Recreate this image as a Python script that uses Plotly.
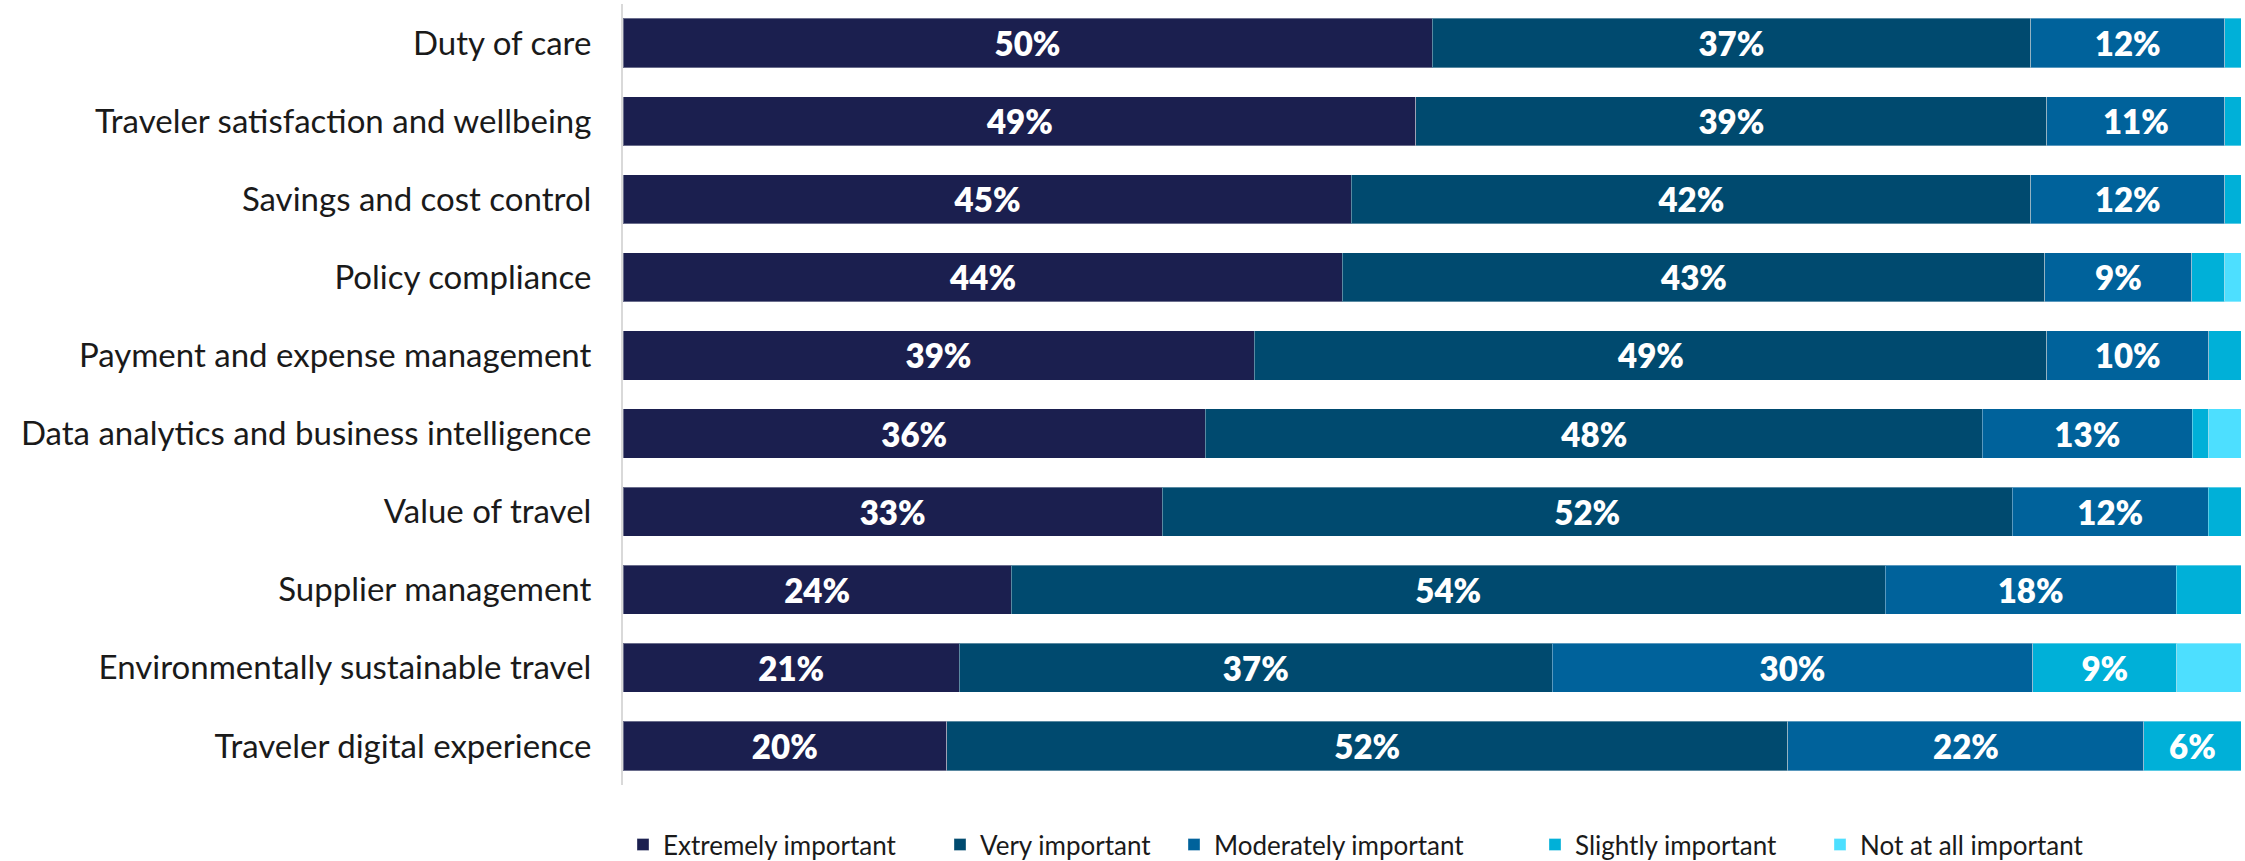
import plotly.graph_objects as go

categories = [
    "Duty of care",
    "Traveler satisfaction and wellbeing",
    "Savings and cost control",
    "Policy compliance",
    "Payment and expense management",
    "Data analytics and business intelligence",
    "Value of travel",
    "Supplier management",
    "Environmentally sustainable travel",
    "Traveler digital experience",
]

extremely = [50, 49, 45, 44, 39, 36, 33, 24, 21, 20]
very = [37, 39, 42, 43, 49, 48, 52, 54, 37, 52]
moderately = [12, 11, 12, 9, 10, 13, 12, 18, 30, 22]
slightly = [1, 1, 1, 2, 2, 1, 2, 4, 9, 6]
not_at_all = [0, 0, 0, 1, 0, 2, 0, 0, 4, 0]

# name, values, colour, legend entry width (px)
series = [
    ("Extremely important", extremely, "#1b1f4f", 272),
    ("Very important", very, "#004a6f", 189),
    ("Moderately important", moderately, "#00629b", 316),
    ("Slightly important", slightly, "#00b0d8", 240),
    ("Not at all important", not_at_all, "#4ddfff", 240),
]

FONT = "Lato"

fig = go.Figure()
for name, vals, color, lw in series:
    labels = [f"{v}%" if v >= 5 else "" for v in vals]
    fig.add_trace(go.Bar(
        name=name,
        y=categories,
        x=vals,
        orientation="h",
        marker=dict(color=color, line=dict(color="rgba(255,255,255,0.35)", width=1)),
        text=labels,
        textposition="inside",
        insidetextanchor="middle",
        constraintext="none",
        textfont=dict(family=FONT, size=33, color="white", weight=800),
        legendwidth=lw,
        hoverinfo="skip",
    ))

fig.update_layout(
    barmode="stack",
    barnorm="percent",
    bargap=0.37,
    width=2245,
    height=861,
    margin=dict(l=623, r=4, t=4, b=76),
    paper_bgcolor="white",
    plot_bgcolor="white",
    font=dict(family=FONT, color="#1a1a1a"),
    showlegend=True,
    legend=dict(
        orientation="h",
        xref="paper", x=0.0, xanchor="left",
        yref="container", y=0.019, yanchor="middle",
        font=dict(family=FONT, size=26, color="#1a1a1a"),
        traceorder="normal",
        itemclick=False,
    ),
)
fig.update_xaxes(visible=False, range=[0, 100], fixedrange=True)
fig.update_yaxes(
    categoryorder="array",
    categoryarray=categories,
    autorange="reversed",
    showline=True,
    linecolor="#d9d9d9",
    linewidth=2,
    showgrid=False,
    ticks="",
    ticklabelstandoff=23,
    tickfont=dict(family=FONT, size=33, color="#1a1a1a"),
    fixedrange=True,
)

fig.write_html("out.html")
